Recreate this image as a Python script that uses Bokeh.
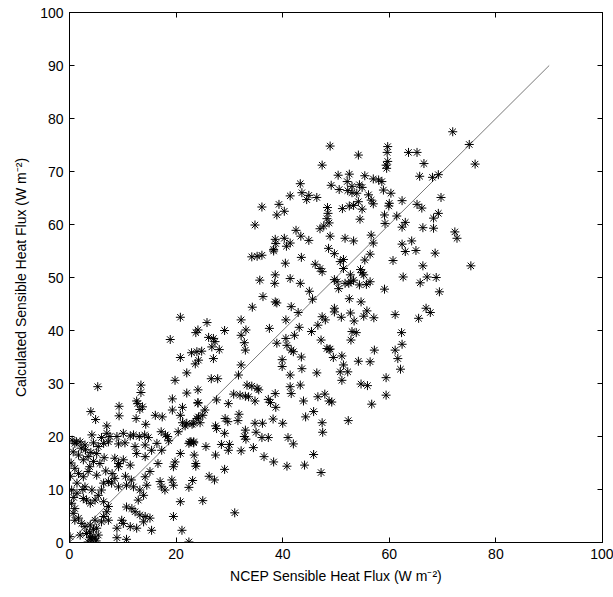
from bokeh.plotting import figure
from bokeh.models import Range1d, LinearAxis, SingleIntervalTicker
from bokeh.embed import file_html
from bokeh.resources import INLINE

# NCEP sensible heat flux (x) and calculated sensible heat flux (y), W m-2
ncep = [
    71.9, 75.0, 76.1, 54.2, 59.7, 59.6, 63.6, 65.2, 66.5, 59.7, 59.4, 59.5, 65.7, 68.1, 69.2, 55.4, 57.0, 58.0, 58.6, 54.4,
    54.9, 58.9, 60.3, 53.9, 56.1, 56.6, 54.2, 57.0, 60.0, 59.9, 62.4, 54.9, 65.2, 66.1, 69.7, 59.1, 61.4, 54.5, 59.2, 63.0,
    62.4, 68.3, 69.2, 66.3, 68.3, 72.3, 72.7, 56.6, 57.0, 62.4, 64.2, 63.0, 65.0, 68.6, 56.4,
    69.4, 66.9, 67.7, 65.5, 61.1, 59.1, 62.6, 65.8, 67.1, 68.8, 66.3, 60.7, 75.3,
    62.3, 62.4, 61.1, 61.6, 62.1, 57.2, 56.4, 54.2, 59.4, 59.4, 56.7, 54.7, 55.9, 51.1, 49.5, 51.4, 50.8, 52.2, 51.1, 48.9,
    49.2, 53.0, 53.8, 52.8, 49.7, 49.7, 51.0, 52.7, 53.4, 55.2, 55.8, 57.1, 52.5, 54.7,
    49.7, 50.2, 50.5, 51.7, 52.4, 52.8, 52.7, 53.3, 54.4, 55.7, 56.4, 54.9, 55.2, 54.6, 51.4, 50.8, 51.4, 49.7, 55.4,
    34.2, 35.2, 36.1, 38.3, 40.5, 43.5, 46.1, 47.0, 47.4,
    35.7, 38.6, 38.5, 41.4, 43.3, 45.0, 45.6, 36.3, 38.6, 38.9, 34.3, 41.6, 42.9, 40.6, 32.2, 33.1, 29.1, 25.8, 37.5, 43.1,
    42.2, 40.6, 38.9, 40.8, 41.6, 42.0, 43.5, 39.9, 39.9, 43.6, 41.4, 46.4, 45.4, 46.6, 47.4, 48.0, 47.2, 48.3, 48.7,
    32.2, 26.1, 27.0, 27.3, 26.7, 28.1, 27.0, 32.8, 33.0, 32.2, 31.7, 26.6, 27.8, 33.3, 34.2, 35.2, 35.5, 38.6, 41.4, 41.6,
    43.3, 30.8, 32.0, 33.0, 33.6, 34.8, 37.3, 37.7, 27.6, 29.8, 43.9, 46.6, 47.9, 48.7,
    24.1, 38.7, 45.8, 44.3, 47.4, 47.5, 45.8, 47.2, 44.1, 40.8, 38.3, 36.5, 40.0, 38.2, 42.0, 41.0, 37.3, 36.1, 35.0, 34.5,
    33.1, 32.8, 32.2, 33.0, 34.8, 36.2, 31.8, 31.6, 29.2, 29.7, 29.1, 27.4, 27.6, 30.0, 29.8, 28.5, 27.4, 25.6, 22.8, 23.3,
    22.4, 23.4, 23.7, 23.7, 22.0, 23.3, 24.2, 24.5, 25.4, 29.1, 26.2, 27.2, 23.1, 22.4, 25.0, 31.0, 22.4, 52.3,
    20.8, 18.9, 23.7, 24.1, 20.8, 22.9, 23.9, 24.8, 23.6, 24.2, 22.0, 19.8, 5.3, 13.4, 13.4, 12.6, 12.8, 13.7, 13.2, 19.3,
    22.0, 24.1, 24.1, 9.3, 9.3, 4.0, 4.9, 12.5, 14.3, 16.1, 17.4, 19.3, 21.2, 20.8, 21.2, 21.7, 23.0, 23.9, 25.0, 7.0,
    4.2, 6.0, 7.0, 7.6, 8.9, 10.1, 11.4, 12.0, 13.1, 14.1, 14.8, 17.2, 18.0, 18.4, 20.4, 0.5, 1.3, 22.6, 23.3,
    1.0, 2.0, 2.9, 4.5, 5.4, 6.4, 7.3, 9.2, 10.4, 12.3, 14.2, 16.4, 18.6,
    0.7, 1.7, 2.6, 3.5, 5.1, 5.7, 8.5, 9.2, 10.1, 11.4, 12.6, 14.2, 15.4, 17.3, 20.8,
    19.8, 19.5, 16.6, 15.1, 14.2, 1.7, 2.6, 3.5, 5.1, 6.4, 7.3, 8.5, 9.2,
    0.4, 1.4, 2.6, 3.2, 3.9, 4.8, 5.4, 6.4, 7.3,
    1.4, 2.9, 4.2, 6.0, 7.9, 9.2, 10.7, 12.0, 13.2, 14.5, 13.9, 12.9,
    17.0, 17.9, 19.2, 19.5, 17.3, 20.8, 19.5, 21.1,
    10.7, 11.7, 12.3, 13.2, 14.2, 15.1, 15.4, 9.8, 8.9, 10.1, 11.4, 12.6, 13.9, 8.9, 10.7,
    0.4, 1.0, 0.7, 1.7, 1.0, 2.3, 2.9, 3.9, 4.8, 5.1, 6.0,
    0.1, 2.0, 3.2, 4.2, 4.8, 4.2, 3.5, 5.4, 7.0, 6.4, 7.3,
    3.0, 4.0, 2.2, 6.5, 4.5, 3.8, 0.3, 0.2, 1.0, 3.8, 4.5, 5.0, 3.9, 2.5, 0.8, 6.8, 8.0, 10.5, 11.6,
    48.9, 47.4, 50.4, 52.5, 52.1, 53.0, 49.1, 50.6, 52.2, 53.0, 43.3, 43.6, 44.5, 44.9, 46.4, 41.4, 36.1, 39.3, 38.9, 40.3,
    34.8, 48.4, 48.5, 48.3, 48.7, 47.7, 47.0, 48.9, 51.2, 52.5, 53.3, 51.7, 53.3, 42.5, 43.4, 44.9, 38.6, 38.7, 40.3, 40.7,
    41.4, 38.3, 48.6,
]
calculated = [
    77.5, 75.1, 71.4, 73.1, 74.7, 73.6, 73.6, 73.6, 71.5, 71.9, 71.2, 70.6, 69.1, 68.9, 69.4, 69.2, 68.6, 68.4, 68.1, 67.5,
    67.0, 66.5, 65.9, 65.9, 65.6, 64.6, 64.3, 63.9, 64.0, 63.5, 64.5, 62.9, 63.8, 63.1, 65.1, 61.8, 61.6, 61.0, 60.2, 60.4,
    59.5, 61.2, 62.1, 59.4, 59.3, 58.6, 57.4, 58.0, 56.5, 56.3, 56.9, 54.9, 55.1, 54.6, 54.4,
    47.3, 44.2, 43.4, 42.3, 43.0, 47.8, 50.1, 49.0, 50.1, 50.0, 52.2, 53.2, 52.2,
    39.6, 37.4, 36.3, 34.7, 32.7, 36.3, 34.1, 34.2, 31.1, 27.8, 26.1, 29.9, 29.6, 35.2, 34.9, 33.5, 32.2, 32.2, 30.6, 36.5,
    26.5, 39.8, 39.6, 38.2, 44.2, 43.5, 42.5, 43.3, 41.8, 42.7, 43.7, 42.4, 46.0, 45.4,
    49.6, 49.2, 47.9, 48.9, 48.9, 49.2, 50.5, 49.5, 48.6, 48.7, 49.2, 50.9, 50.5, 51.5, 51.7, 53.0, 53.4, 54.5, 53.3,
    53.9, 54.0, 54.2, 55.0, 52.7, 53.8, 52.5, 51.7, 51.1,
    49.5, 50.5, 48.9, 49.8, 48.9, 47.4, 45.9, 46.4, 45.4, 45.2, 44.4, 44.5, 43.4, 42.0, 42.0, 40.1, 40.0, 41.5, 40.4, 40.6,
    39.1, 38.5, 37.6, 37.2, 36.3, 36.0, 35.0, 34.5, 33.2, 32.8, 31.6, 32.0, 39.8, 41.0, 42.6, 42.0, 38.2, 36.6, 36.4,
    39.1, 38.7, 38.5, 37.9, 36.9, 36.4, 34.7, 37.7, 36.3, 33.5, 31.6, 30.9, 30.9, 29.7, 29.5, 29.1, 28.8, 28.1, 29.4, 28.1,
    29.7, 28.0, 27.8, 27.6, 27.5, 26.7, 27.0, 26.4, 26.9, 26.2, 26.7, 27.5, 28.0, 26.7,
    26.3, 25.5, 24.7, 23.7, 22.6, 20.8, 16.6, 13.2, 14.6, 14.4, 15.2, 16.2, 22.5, 23.3, 18.6, 19.8, 19.8, 19.8, 20.8, 17.9,
    19.5, 20.0, 17.3, 21.2, 22.5, 22.5, 24.2, 23.0, 23.4, 22.8, 20.6, 22.0, 21.5, 18.5, 17.4, 18.5, 16.5, 18.1, 19.0, 18.8,
    18.7, 16.5, 14.9, 14.4, 22.5, 22.5, 23.7, 22.6, 25.0, 13.8, 12.5, 11.8, 11.7, 10.4, 7.9, 5.6, 0.1, 23.0,
    42.5, 38.3, 39.6, 40.1, 34.9, 35.8, 36.0, 36.1, 33.7, 34.4, 32.0, 30.6, 29.4, 29.7, 28.3, 26.7, 26.2, 25.6, 25.1, 27.1,
    28.2, 28.8, 26.4, 25.7, 23.9, 24.7, 23.2, 23.4, 22.3, 24.0, 23.7, 25.0, 25.5, 24.0, 22.6, 22.0, 22.3, 23.4, 24.0, 22.0,
    20.3, 19.8, 20.6, 20.0, 20.0, 20.6, 20.1, 20.3, 20.0, 20.3, 19.8, 20.9, 20.3, 20.0, 20.9, 19.3, 19.0, 19.0, 19.0,
    18.7, 19.0, 18.4, 18.8, 18.1, 18.7, 19.0, 18.6, 18.8, 18.1, 18.4, 18.7, 19.2,
    17.1, 16.5, 15.6, 16.2, 16.8, 14.9, 15.9, 14.9, 15.6, 14.6, 16.8, 16.2, 17.4, 17.4, 16.8,
    15.2, 14.3, 14.9, 13.4, 12.4, 13.0, 12.4, 13.4, 12.7, 11.2, 11.5, 12.1, 14.3,
    9.9, 9.3, 8.3, 8.0, 7.4, 8.0, 8.9, 7.7, 6.8,
    11.2, 10.5, 9.9, 9.9, 11.2, 10.5, 10.8, 10.5, 9.9, 10.8, 8.9, 8.0,
    11.5, 9.9, 11.8, 10.8, 10.5, 7.7, 4.9, 2.3,
    6.7, 6.4, 5.8, 5.2, 4.9, 4.6, 2.3, 4.2, 2.7, 3.6, 3.0, 2.7, 3.9, 0.9, 0.6,
    7.4, 6.4, 5.5, 4.6, 4.2, 3.6, 3.0, 3.3, 4.2, 2.7, 3.9,
    1.1, 1.4, 1.7, 1.1, 0.8, 0.5, 0.1, 1.4, 5.8, 4.9, 4.2,
    17.5, 17.0, 17.8, 16.0, 15.3, 14.3, 15.0, 12.5, 14.0, 2.0, 2.5, 0.3, 0.9, 10.0, 8.5, 13.5, 13.0, 12.5, 11.8,
    74.8, 71.2, 69.3, 69.5, 68.1, 67.2, 67.4, 66.6, 66.4, 66.0, 67.7, 66.0, 64.7, 65.5, 65.1, 65.4, 63.3, 63.8, 61.8, 62.5,
    59.9, 63.2, 62.1, 61.1, 60.3, 59.7, 59.2, 57.8, 63.0, 63.5, 63.6, 57.4, 56.9, 58.9, 57.8, 57.0, 57.2, 56.4, 57.4, 55.9,
    56.5, 55.3, 55.5,
]
one_to_one = [0, 90]

x_ticks_step = 20
y_ticks_step = 10
FONT = "Liberation Sans"

p = figure(width=613, height=597, output_backend="svg", toolbar_location=None,
           x_range=Range1d(0, 100), y_range=Range1d(0, 100),
           min_border_left=69, min_border_right=11, min_border_top=12, min_border_bottom=55,
           background_fill_color="white", border_fill_color="white")
p.grid.visible = False
p.outline_line_color = "black"
p.outline_line_width = 1

p.xaxis.ticker = SingleIntervalTicker(interval=x_ticks_step)
p.yaxis.ticker = SingleIntervalTicker(interval=y_ticks_step)
p.xaxis.axis_label = "NCEP Sensible Heat Flux (W m\u207b\u00b2)"
p.yaxis.axis_label = "Calculated Sensible Heat Flux (W m\u207b\u00b2)"
for ax in (p.xaxis[0], p.yaxis[0]):
    ax.major_tick_in = 5
    ax.major_tick_out = 0
    ax.minor_tick_in = 0
    ax.minor_tick_out = 0
    ax.axis_line_color = "black"
    ax.major_tick_line_color = "black"
    ax.major_label_text_font = FONT
    ax.major_label_text_font_size = "14px"
    ax.major_label_text_color = "black"
    ax.axis_label_text_font = FONT
    ax.axis_label_text_font_size = "14px"
    ax.axis_label_text_font_style = "normal"
    ax.axis_label_text_color = "black"
p.xaxis.major_label_standoff = 6
p.xaxis.axis_label_standoff = 6
p.yaxis.major_label_standoff = 6
p.yaxis.axis_label_standoff = 8

# mirrored tick marks on top and right (box on), without labels
top = LinearAxis(ticker=SingleIntervalTicker(interval=x_ticks_step),
                 major_label_text_font_size="1px", major_label_text_color=None,
                 major_tick_in=5, major_tick_out=0, minor_tick_in=0, minor_tick_out=0,
                 major_label_standoff=0, axis_line_color="black")
right = LinearAxis(ticker=SingleIntervalTicker(interval=y_ticks_step),
                   major_label_text_font_size="1px", major_label_text_color=None,
                   major_tick_in=5, major_tick_out=0, minor_tick_in=0, minor_tick_out=0,
                   major_label_standoff=0, axis_line_color="black")
p.add_layout(top, "above")
p.add_layout(right, "right")

p.line(one_to_one, one_to_one, line_color="#555555", line_width=0.8)
p.scatter(ncep, calculated, marker="asterisk", size=9, line_color="black", line_width=1)

open("out.html", "w").write(file_html(p, INLINE))
